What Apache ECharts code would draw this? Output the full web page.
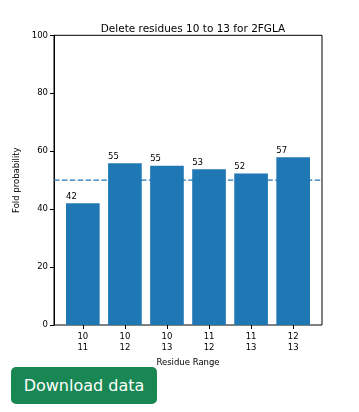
<!DOCTYPE html>
<html><head><meta charset="utf-8">
<script src="https://cdn.jsdelivr.net/npm/echarts@6/dist/echarts.min.js"></script>
<style>
html,body{margin:0;padding:0;background:#fff;}
#wrap{position:relative;width:359px;height:412px;}
#chart{position:absolute;left:0;top:0;width:359px;height:412px;}
#btn{position:absolute;left:11px;top:367px;width:146px;height:37px;background:#198754;color:#fff;border-radius:5px;
font-family:"DejaVu Sans",sans-serif;font-size:16px;line-height:37px;text-align:center;z-index:2;}
</style></head>
<body><div id="wrap"><div id="chart"></div><div id="btn">Download data</div></div>
<script>
const categories = ["10\n11", "10\n12", "10\n13", "11\n12", "11\n13", "12\n13"];
const foldProb = [42.0, 55.8, 55.0, 53.8, 52.3, 57.9];
const threshold = 50;
const yTicks = [0, 20, 40, 60, 80, 100];

const F = '"DejaVu Sans", sans-serif';
const chart = echarts.init(document.getElementById('chart'));
chart.setOption({
  animation: false,
  title: {text: 'Delete residues 10 to 13 for 2FGLA', left: 188, top: 19, textAlign: 'center',
    textStyle: {fontFamily: F, fontSize: 10.5, fontWeight: 'normal', color: '#000'}},
  grid: [
    {left: 54, top: 35.3, width: 268, height: 289.7, show: true, borderColor: '#000', borderWidth: 1,
      backgroundColor: 'transparent', outerBoundsMode: 'none', containLabel: false},
    {left: 61.8, top: 35.3, width: 252.4, height: 289.7, outerBoundsMode: 'none', containLabel: false}
  ],
  xAxis: [
    {gridIndex: 0, type: 'value', min: 0, max: 1, show: false},
    {gridIndex: 1, type: 'category', data: categories,
      axisLine: {show: false},
      axisTick: {show: true, alignWithLabel: true, length: 4, lineStyle: {color: '#000'}},
      axisLabel: {fontFamily: F, fontSize: 8.5, color: '#000', margin: 6, lineHeight: 11},
      name: 'Residue Range', nameLocation: 'middle', nameGap: 32,
      nameTextStyle: {fontFamily: F, fontSize: 8.5, color: '#000'}}
  ],
  yAxis: [
    {gridIndex: 0, type: 'value', min: 0, max: 100, interval: 20,
      axisLine: {show: true, lineStyle: {color: '#000'}},
      axisTick: {show: true, length: 4, lineStyle: {color: '#000'}},
      splitLine: {show: false},
      axisLabel: {fontFamily: F, fontSize: 8.5, color: '#000', margin: 6,
        formatter: v => yTicks.includes(v) ? String(v) : ''},
      name: 'Fold probability', nameLocation: 'middle', nameGap: 27,
      nameTextStyle: {fontFamily: F, fontSize: 8.5, color: '#000'}},
    {gridIndex: 1, type: 'value', min: 0, max: 100, show: false}
  ],
  series: [
    {type: 'bar', xAxisIndex: 1, yAxisIndex: 1, data: foldProb, barCategoryGap: '20%',
      itemStyle: {color: '#1f77b4'},
      label: {show: true, position: [0, -2], align: 'left', verticalAlign: 'bottom',
        fontFamily: F, fontSize: 8.5, color: '#000', formatter: p => String(Math.floor(p.value))}},
    {type: 'line', xAxisIndex: 0, yAxisIndex: 0, data: [[0, threshold], [1, threshold]],
      symbol: 'none', silent: true,
      lineStyle: {color: '#1f77b4', width: 1.2, type: [5.5, 2.4]}}
  ]
});
</script></body></html>
